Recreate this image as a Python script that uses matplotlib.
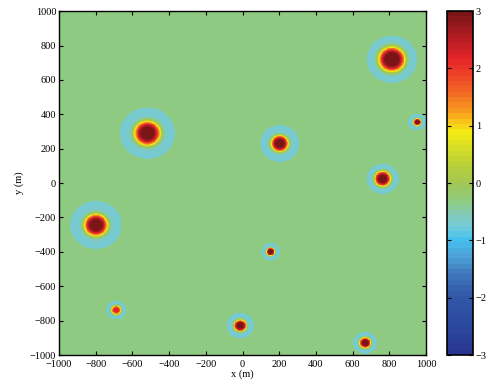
import numpy as np
import matplotlib
matplotlib.use("Agg")
import matplotlib.pyplot as plt
from matplotlib.colors import LinearSegmentedColormap, ListedColormap

# Anomaly data: centre x, centre y (m), halo radius (m), core width (m), peak amplitude
cx = [810, -520, -800, 200, 760, 948, 150, -690, -15, 665]
cy = [720, 290, -245, 230, 25, 355, -400, -740, -830, -930]
halo_r = [137, 150, 140, 107, 87, 50, 51, 55, 75, 64]
core_s = [72, 71, 64, 47.5, 44, 21, 23, 27, 34, 31]
peak = [3.9, 3.8, 3.8, 3.8, 3.8, 3.8, 3.8, 2.9, 3.8, 3.8]
background = -0.33
halo_level = -0.70

x_ticks = list(range(-1000, 1001, 200))
y_ticks = list(range(-1000, 1001, 200))
cb_ticks = [-3, -2, -1, 0, 1, 2, 3]

# colormap anchors (value, colour)
anchors = [(-3.0, "#283590"), (-2.5, "#2A4A9F"), (-2.0, "#3358A7"), (-1.6, "#3F7BBE"),
           (-1.3, "#4DA0D6"), (-1.0, "#45C0EE"), (-0.85, "#66CAE2"), (-0.7, "#7BCBCF"),
           (-0.52, "#84C9AE"), (-0.33, "#8FCB80"), (0.0, "#A2C654"), (0.3, "#B6CF3A"),
           (0.6, "#D4DC28"), (0.9, "#F3EB14"), (1.1, "#F8C21A"), (1.3, "#F7941E"),
           (1.6, "#F26B24"), (2.0, "#EC3A28"), (2.2, "#E5242A"), (2.6, "#B01C22"),
           (3.0, "#7A1517")]
base = LinearSegmentedColormap.from_list(
    "m", [((v + 3) / 6, c) for v, c in anchors])
cmap = ListedColormap(base(np.linspace(0, 1, 64)))

plt.rcParams['font.family'] = ['Liberation Serif', 'DejaVu Serif']

g = np.linspace(-1000, 1000, 801)
X, Y = np.meshgrid(g, g)
Z = np.full(X.shape, background)
for x0, y0, R, s, A in zip(cx, cy, halo_r, core_s, peak):
    r2 = (X - x0) ** 2 + (Y - y0) ** 2
    inside = r2 < R ** 2
    val = halo_level + A * np.exp(-(r2 / s ** 2) ** 2)
    Z = np.where(inside, np.maximum(val, halo_level), Z)
Z = np.clip(Z, -3, 3)

fig = plt.figure(figsize=(4.87, 3.83), dpi=100)
ax = fig.add_axes([0.121, 0.073, 0.754, 0.898])
im = ax.imshow(Z, origin="lower", extent=[-1000, 1000, -1000, 1000],
               cmap=cmap, vmin=-3, vmax=3, aspect="auto", interpolation="nearest")
ax.set_xlim(-1000, 1000)
ax.set_ylim(-1000, 1000)
ax.set_xticks(x_ticks)
ax.set_yticks(y_ticks)
ax.set_xticklabels([f"{t}".replace("-", "\u2212") for t in x_ticks])
ax.set_yticklabels([f"{t}".replace("-", "\u2212") for t in y_ticks])
ax.tick_params(axis="both", direction="in", top=True, right=True, labelsize=7.5,
               length=3, width=0.8)
ax.tick_params(axis="x", pad=3.5)
ax.tick_params(axis="y", pad=2)
ax.set_xlabel("x (m)", fontsize=7.5, labelpad=0)
ax.set_ylabel("y (m)", fontsize=7.5, labelpad=4)
for sp in ax.spines.values():
    sp.set_linewidth(1.0)

cax = fig.add_axes([0.917, 0.073, 0.0547, 0.898])
cb = fig.colorbar(im, cax=cax, ticks=cb_ticks)
cb.ax.set_yticklabels([f"{t}".replace("-", "\u2212") for t in cb_ticks])
cax.tick_params(direction="in", left=True, right=True, labelsize=7.5, length=3,
                width=0.8, pad=2)
cb.outline.set_linewidth(1.2)

fig.savefig("out.png", dpi=100)
